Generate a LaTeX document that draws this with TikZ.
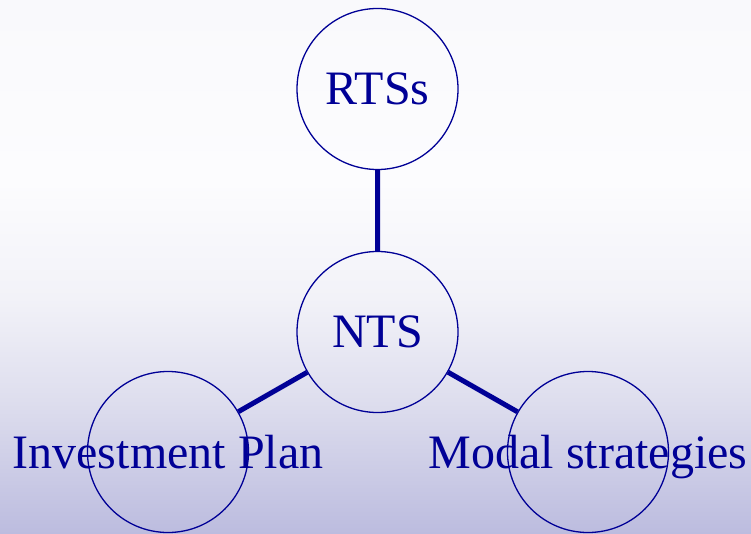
\documentclass[tikz,border=0pt]{standalone}
\usepackage{fontspec}
\setmainfont{Liberation Serif}
\usepackage{tikz}

\definecolor{navy}{RGB}{0,0,150}
\definecolor{lavtop}{RGB}{249,249,252}
\definecolor{lavhi}{RGB}{252,252,254}
\definecolor{lavmid}{RGB}{242,242,248}
\definecolor{lavlow}{RGB}{222,222,238}
\definecolor{lavbot}{RGB}{188,188,223}

\pgfdeclareverticalshading{slide}{100bp}{color(0bp)=(lavbot); color(25bp)=(lavbot);
	color(37.5bp)=(lavlow); color(47bp)=(lavmid); color(58bp)=(lavhi);
	color(75bp)=(lavtop); color(100bp)=(lavtop)}

\tikzset{
	bubble/.style={circle, draw=navy, line width=1.3pt, minimum size=161pt, inner sep=0pt,
		label={[text=navy, text depth=0pt, font=\fontsize{48}{0}\selectfont]center:#1}},
	link/.style={navy, line width=5pt}
}

\begin{document}
\begin{tikzpicture}[x=1pt, y=1pt]

	\shade[shading=slide] (0,0) rectangle (751,533);
	\useasboundingbox (0,0) rectangle (751,533);

	\node (rts) at (377.5,444) [bubble={RTSs}] {};
	\node (nts) at (377.5,201) [bubble={NTS}] {};
	\node (plan) at (168,81) [bubble={Investment Plan}] {};
	\node (modal) at (588,81) [bubble={Modal strategies}] {};

	\draw[link] (rts)--(nts) (nts)--(plan) (nts)--(modal);
	\end{tikzpicture}
\end{document}
